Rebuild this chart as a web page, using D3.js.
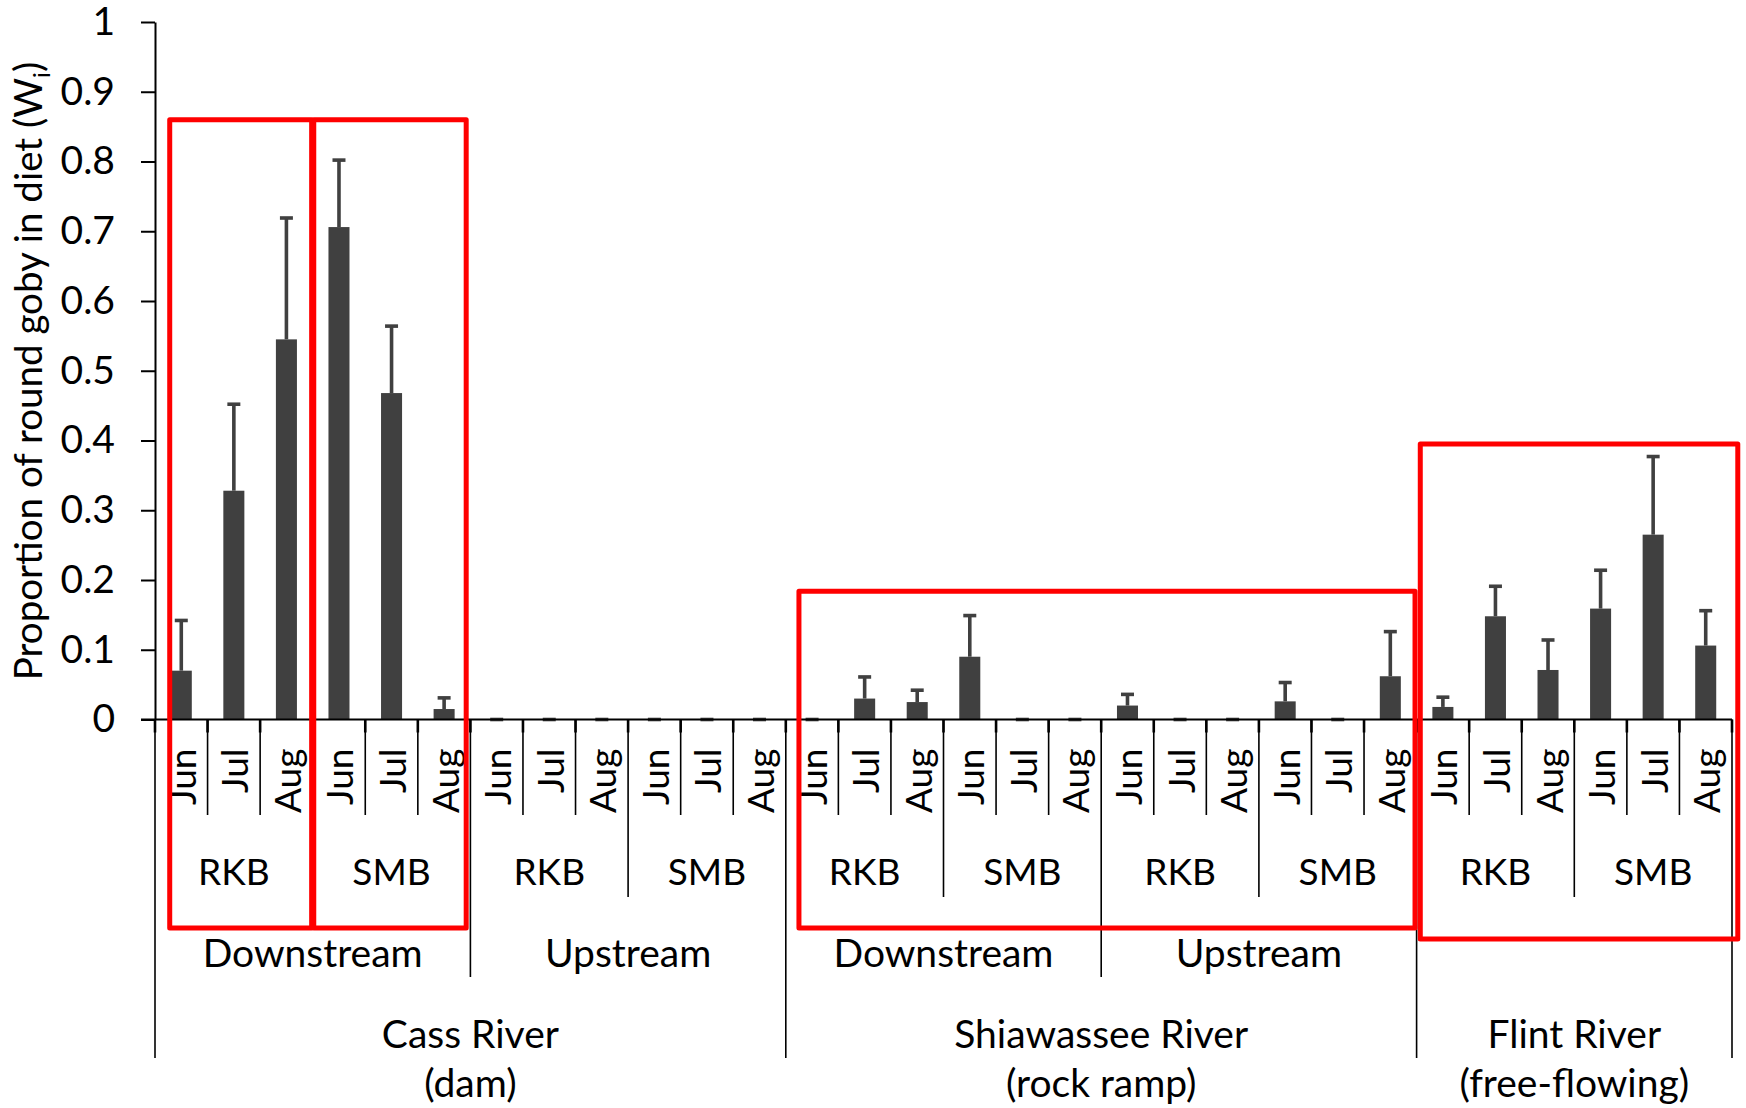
<!DOCTYPE html>
<html><head><meta charset="utf-8">
<script src="https://cdn.jsdelivr.net/npm/d3@7"></script>
<style>
body{margin:0;background:#fff}
text{font-family:Lato, "Open Sans", sans-serif; fill:#000}
</style>
</head><body>
<svg id="chart" width="1746" height="1108"></svg>
<script>
// ---------- data ----------
const months = ["Jun", "Jul", "Aug"];
const speciesNames = ["RKB", "SMB"];
const rivers = ["Cass River", "Shiawassee River", "Flint River"];
const riverNotes = ["(dam)", "(rock ramp)", "(free-flowing)"];
const reaches = [["Downstream", "Upstream"], ["Downstream", "Upstream"], [""]];

// mean proportion (Wi), in category order (river > reach > species > month)
const meanValues = [
  0.070, 0.328, 0.545,  0.706, 0.468, 0.015,   // Cass Downstream RKB, SMB
  0, 0, 0,              0, 0, 0,               // Cass Upstream RKB, SMB
  0, 0.030, 0.025,      0.090, 0, 0,           // Shiawassee Downstream RKB, SMB
  0.020, 0, 0,          0.026, 0, 0.062,       // Shiawassee Upstream RKB, SMB
  0.018, 0.148, 0.071,  0.159, 0.265, 0.106    // Flint RKB, SMB
];
// positive error bar length
const errorValues = [
  0.072, 0.124, 0.174,  0.096, 0.096, 0.016,
  0, 0, 0,              0, 0, 0,
  0, 0.031, 0.017,      0.059, 0, 0,
  0.016, 0, 0,          0.027, 0, 0.064,
  0.014, 0.043, 0.043,  0.055, 0.112, 0.050
];
const yTicks = [0, 0.1, 0.2, 0.3, 0.4, 0.5, 0.6, 0.7, 0.8, 0.9, 1];
const yTickLabels = ["0", "0.1", "0.2", "0.3", "0.4", "0.5", "0.6", "0.7", "0.8", "0.9", "1"];

// highlight boxes: category span (in category units) and top value
const boxStart = [0.28, 3.02, 12.25, 24.07];
const boxEnd   = [2.98, 5.92, 23.97, 30.11];
const boxTop   = [0.86, 0.86, 0.184, 0.395];

// ---------- layout ----------
const L = 155, R = 1732, T = 22, B = 719.5;
const rowBottom = [815, 897, 977, 1058]; // month, species, reach, river
const boxBottom = [928, 928, 928, 939];
const barColor = "#404040";
const FS = 39;

// build categories
const cats = [];
rivers.forEach((rv, ri) => {
  reaches[ri].forEach((rc, ki) => {
    speciesNames.forEach((sp, si) => {
      months.forEach((m, mi) => {
        cats.push({ri, ki, si, mi, month: m});
      });
    });
  });
});
cats.forEach((c, i) => { c.i = i; c.v = meanValues[i]; c.e = errorValues[i]; });
const N = cats.length;

const svg = d3.select("#chart");
const x = d3.scaleBand().domain(d3.range(N)).range([L, R]).paddingInner(0.6).paddingOuter(0.3);
const xb = d3.scaleLinear().domain([0, N]).range([L, R]);
const y = d3.scaleLinear().domain([0, 1]).range([B, T]);

// y axis
const yAxis = d3.axisLeft(y).tickValues(yTicks).tickFormat((d, i) => yTickLabels[i]).tickSizeInner(14).tickSizeOuter(0).tickPadding(26);
const yg = svg.append("g").attr("transform", `translate(${L},0)`).call(yAxis);
yg.select(".domain").attr("stroke", "#000").attr("stroke-width", 2);
yg.selectAll(".tick line").attr("stroke", "#000").attr("stroke-width", 2);
yg.selectAll(".tick text").attr("font-size", FS).attr("font-family", "Lato, sans-serif").attr("fill", "#000");

// y title
const yt = svg.append("text").attr("transform", `translate(42,371) rotate(-90)`)
  .attr("text-anchor", "middle").attr("font-size", 38.5);
yt.append("tspan").text("Proportion of round goby in diet (W");
yt.append("tspan").text("i").attr("font-size", 24).attr("dy", 8);
yt.append("tspan").text(")").attr("dy", -8);

// bars
svg.append("g").selectAll("rect").data(cats).join("rect")
  .attr("x", d => x(d.i)).attr("width", x.bandwidth())
  .attr("y", d => y(d.v)).attr("height", d => y(0) - y(d.v))
  .attr("fill", barColor);

// error bars
const eg = svg.append("g").attr("stroke", barColor).attr("stroke-width", 3.6);
eg.selectAll("line.v").data(cats).join("line").attr("class", "v")
  .attr("x1", d => x(d.i) + x.bandwidth() / 2).attr("x2", d => x(d.i) + x.bandwidth() / 2)
  .attr("y1", d => y(d.v)).attr("y2", d => y(d.v + d.e));
eg.selectAll("line.c").data(cats).join("line").attr("class", "c")
  .attr("x1", d => x(d.i) + x.bandwidth() / 2 - 6.5).attr("x2", d => x(d.i) + x.bandwidth() / 2 + 6.5)
  .attr("y1", d => y(d.v + d.e)).attr("y2", d => y(d.v + d.e));

// x axis line
svg.append("line").attr("x1", L - 14).attr("x2", R).attr("y1", B).attr("y2", B)
  .attr("stroke", "#000").attr("stroke-width", 2);

// boundary levels
function level(i) {
  if (i === 0 || i === N) return 3;
  const a = cats[i - 1], b = cats[i];
  if (a.ri !== b.ri) return 3;
  if (a.ki !== b.ki) return 2;
  if (a.si !== b.si) return 1;
  return 0;
}
const bounds = d3.range(N + 1).map(i => ({i, lv: level(i)}));
svg.append("g").selectAll("line").data(bounds).join("line")
  .attr("x1", d => xb(d.i)).attr("x2", d => xb(d.i))
  .attr("y1", B).attr("y2", d => rowBottom[d.lv])
  .attr("stroke", "#000").attr("stroke-width", 1.6);
svg.append("g").selectAll("line").data(bounds).join("line")
  .attr("x1", d => xb(d.i)).attr("x2", d => xb(d.i))
  .attr("y1", B).attr("y2", B + 13)
  .attr("stroke", "#000").attr("stroke-width", 2.6);

// month labels
svg.append("g").selectAll("text").data(cats).join("text")
  .attr("transform", d => `translate(${x(d.i) + x.bandwidth() / 2},${B + 29}) rotate(-90)`)
  .attr("text-anchor", "end").attr("dominant-baseline", "central")
  .attr("font-size", 37).text(d => d.month);

// species labels
const spGroups = d3.groups(cats, d => d.ri + "-" + d.ki + "-" + d.si).map(([k, v]) => ({
  name: speciesNames[v[0].si], a: v[0].i, b: v[v.length - 1].i + 1}));
svg.append("g").selectAll("text").data(spGroups).join("text")
  .attr("x", d => xb((d.a + d.b) / 2)).attr("y", 870)
  .attr("text-anchor", "middle").attr("dominant-baseline", "central")
  .attr("font-size", 37).text(d => d.name);

// reach labels
const rcGroups = d3.groups(cats, d => d.ri + "-" + d.ki).map(([k, v]) => ({
  name: reaches[v[0].ri][v[0].ki], a: v[0].i, b: v[v.length - 1].i + 1}));
svg.append("g").selectAll("text").data(rcGroups.filter(d => d.name)).join("text")
  .attr("x", d => xb((d.a + d.b) / 2)).attr("y", 952)
  .attr("text-anchor", "middle").attr("dominant-baseline", "central")
  .attr("font-size", FS).text(d => d.name);

// river labels
const rvGroups = d3.groups(cats, d => d.ri).map(([k, v]) => ({
  ri: k, a: v[0].i, b: v[v.length - 1].i + 1}));
const rvg = svg.append("g").selectAll("g").data(rvGroups).join("g");
rvg.append("text").attr("x", d => xb((d.a + d.b) / 2)).attr("y", 1033)
  .attr("text-anchor", "middle").attr("dominant-baseline", "central")
  .attr("font-size", FS).text(d => rivers[d.ri]);
rvg.append("text").attr("x", d => xb((d.a + d.b) / 2)).attr("y", 1082)
  .attr("text-anchor", "middle").attr("dominant-baseline", "central")
  .attr("font-size", FS).text(d => riverNotes[d.ri]);

// highlight boxes
svg.append("g").selectAll("rect").data(boxStart.map((s, k) => k)).join("rect")
  .attr("x", k => xb(boxStart[k])).attr("width", k => xb(boxEnd[k]) - xb(boxStart[k]))
  .attr("y", k => y(boxTop[k])).attr("height", k => boxBottom[k] - y(boxTop[k]))
  .attr("fill", "none").attr("stroke", "#FF0000").attr("stroke-width", 5)
  .attr("stroke-linejoin", "round");
</script>
</body></html>
